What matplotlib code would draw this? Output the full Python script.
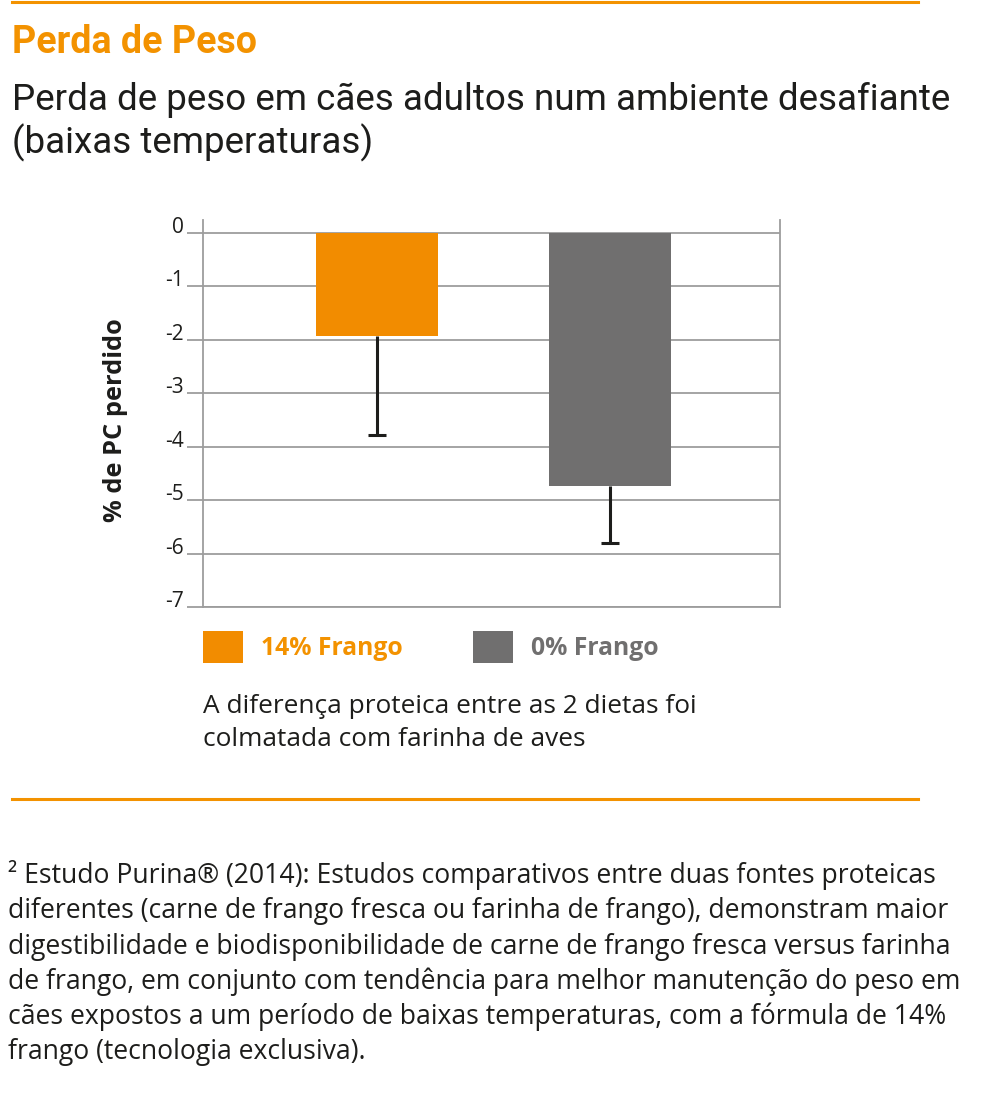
import numpy as np
import matplotlib
matplotlib.use("Agg")
import matplotlib.pyplot as plt
from matplotlib.lines import Line2D

# data
groups = ["14% Frango", "0% Frango"]
weight_loss = [-1.93, -4.74]
error_low = [1.85, 1.07]
bar_colors = ["#F28C00", "#706F6F"]
label_colors = ["#F39200", "#706F6F"]
yticks = [0, -1, -2, -3, -4, -5, -6, -7]

title = "Perda de Peso"
subtitle = ["Perda de peso em cães adultos num ambiente desafiante",
            "(baixas temperaturas)"]
ylabel = "% de PC perdido"
caption = ["A diferença proteica entre as 2 dietas foi",
           "colmatada com farinha de aves"]
footnote = [
    "² Estudo Purina® (2014): Estudos comparativos entre duas fontes proteicas",
    "diferentes (carne de frango fresca ou farinha de frango), demonstram maior",
    "digestibilidade e biodisponibilidade de carne de frango fresca versus farinha",
    "de frango, em conjunto com tendência para melhor manutenção do peso em",
    "cães expostos a um período de baixas temperaturas, com a fórmula de 14%",
    "frango (tecnologia exclusiva).",
]

plt.rcParams['font.family'] = ['Open Sans', 'DejaVu Sans']
head_font = ['Roboto', 'Open Sans', 'DejaVu Sans']
orange = "#F39200"
grid_c = "#9D9D9D"
ink = "#1D1D1B"

W, H = 991, 1108
fig = plt.figure(figsize=(W / 100, H / 100), dpi=100)


def px(x, y):
    return x / W, 1 - y / H


# orange rules
for y in (1.5, 799):
    fig.add_artist(Line2D([12 / W, 918 / W], [1 - y / H] * 2, color=orange, lw=2.2))

# header
fig.text(*px(12, 53), title, family=head_font, weight='bold', size=27,
         color=orange, va='baseline')
for i, line in enumerate(subtitle):
    fig.text(*px(12, 110 + 43 * i), line, family=head_font, size=26.5,
             color=ink, va='baseline')

# chart
ax = fig.add_axes([203 / W, 1 - 607 / H, (780 - 203) / W, (607 - 220) / H])
x = np.arange(len(groups))
bars = ax.bar(x, weight_loss, width=0.524, color=bar_colors, zorder=3)
lower = np.array(weight_loss) - np.array(error_low)
ax.vlines(x, weight_loss, lower, color=ink, lw=2.2, zorder=4)
ax.plot(x, lower, ls='none', marker='_', ms=12.5, mew=2.2, color=ink, zorder=4)

ax.set_xlim(-0.747, 1.73)
ax.set_ylim(-7, 0.243)
ax.set_xticks([])
ax.set_yticks(yticks)
ax.set_yticklabels([str(v) for v in yticks])
for lbl in ax.get_yticklabels():
    lbl.set_verticalalignment('baseline')
ax.yaxis.grid(True, color=grid_c, lw=1.3)
ax.set_axisbelow(True)
ax.tick_params(axis='y', direction='out', length=11.5, width=1.3, color=grid_c,
               pad=2, labelsize=15, labelcolor=ink)
ax.spines['top'].set_visible(False)
for s in ('left', 'right', 'bottom'):
    ax.spines[s].set_color(grid_c)
    ax.spines[s].set_linewidth(1.3)

fig.text(*px(116, 420), ylabel, rotation=90, ha='center', va='center',
         weight='bold', size=18.3, color=ink)

# legend
leg = ax.legend(handles=list(bars.patches), labels=groups, loc='upper left',
                bbox_to_anchor=px(203, 631), bbox_transform=fig.transFigure,
                ncol=2, frameon=False, prop=dict(weight='bold', size=17.8),
                handlelength=1.62, handleheight=1.62, handletextpad=0.73,
                columnspacing=2.83, borderpad=0, borderaxespad=0)
for t, c in zip(leg.get_texts(), label_colors):
    t.set_color(c)

# caption
for i, line in enumerate(caption):
    fig.text(*px(203, 713 + 33 * i), line, size=18.9, color=ink, va='baseline')

# footnote
for i, line in enumerate(footnote):
    fig.text(*px(8, 883 + 35.3 * i), line, size=19.1, color=ink, va='baseline')

fig.savefig("out.png", dpi=100)
